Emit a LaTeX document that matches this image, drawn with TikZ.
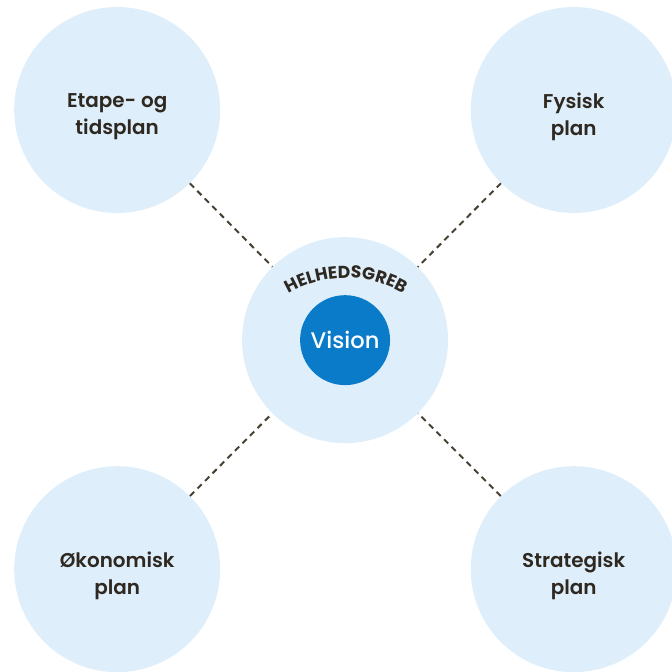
\documentclass[tikz,border=0pt]{standalone}
\usepackage{fontspec}
\setmainfont{Poppins}[BoldFont={Poppins SemiBold}]
\newfontfamily\visionfont{Poppins Medium}
\newfontfamily\grebfont{Poppins}
\usetikzlibrary{decorations.text}
\definecolor{planblue}{HTML}{DEEFFB}
\definecolor{visionblue}{HTML}{0A7BC9}
\definecolor{inkbrown}{HTML}{2E2820}
\definecolor{dashbrown}{HTML}{4A4135}

\begin{document}
\begin{tikzpicture}
      \tikzset{plan/.style={circle, fill=planblue, minimum size=5.45cm, inner sep=0pt},
               plantext/.style={align=center, yshift=-5pt, text=inkbrown,
                                font=\fontsize{15}{20}\selectfont\bfseries},
               link/.style={dashbrown, line width=1.5pt, dash pattern=on 4.5pt off 3.5pt}}
      \useasboundingbox (0,0) rectangle (17.78,17.78);

      \node at (3.10,14.87) [plan, label={[plantext]center:{Etape- og\\tidsplan}}] (etape) {};
      \node at (15.18,14.87) [plan, label={[plantext]center:{Fysisk\\plan}}] (fysisk) {};
      \node at (3.10,2.72) [plan, label={[plantext]center:{Økonomisk\\plan}}] (oekonomi) {};
      \node at (15.18,2.72) [plan, label={[plantext]center:{Strategisk\\plan}}] (strategi) {};

      \node at (9.13,8.78) [plan] (greb) {};
      \node at (9.13,8.78) [circle, fill=visionblue, minimum size=2.38cm, inner sep=0pt,
                            text=white, font=\visionfont\fontsize{17}{19}\selectfont] (vision) {Vision};
      \path[decorate, decoration={text along path, text align=center,
            text={|\grebfont\bfseries\fontsize{13}{13}\selectfont\color{inkbrown}|HELHEDSGREB}}]
      (7.425,9.881) arc[start angle=125, end angle=55, radius=3.016cm];

      \draw[link] (etape) -- (greb);
      \draw[link] (fysisk) -- (greb);
      \draw[link] (oekonomi) -- (greb);
      \draw[link] (strategi) -- (greb);
\end{tikzpicture}
\end{document}
